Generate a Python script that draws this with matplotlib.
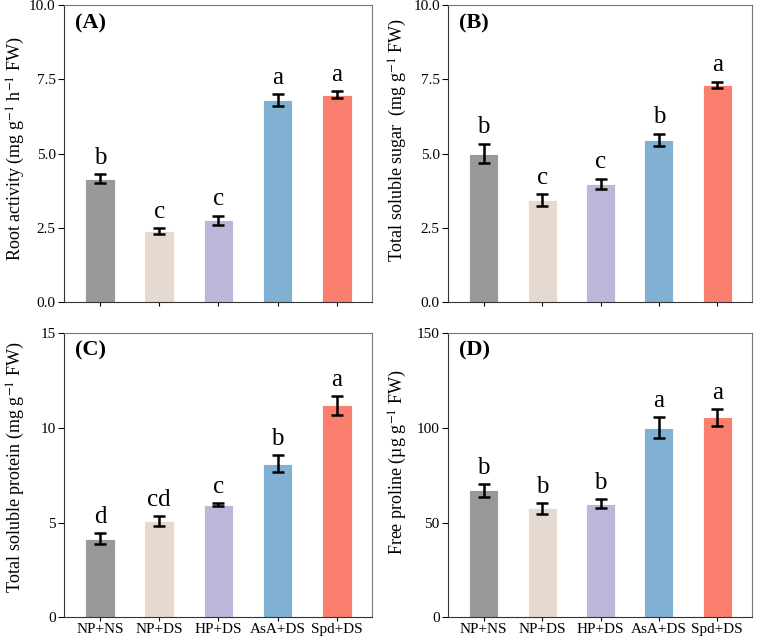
import numpy as np
import matplotlib
matplotlib.use("Agg")
import matplotlib.pyplot as plt

plt.rcParams['font.family'] = ['Liberation Serif', 'DejaVu Serif']
plt.rcParams['mathtext.fontset'] = 'stix'

groups = ["NP+NS", "NP+DS", "HP+DS", "AsA+DS", "Spd+DS"]
colors = ["#999999", "#e6d9d0", "#bcb6db", "#80b1d3", "#fa7f6f"]

root_mean = [4.15, 2.38, 2.75, 6.80, 6.98]
root_err = [0.15, 0.10, 0.16, 0.20, 0.12]
root_letters = ["b", "c", "c", "a", "a"]

sugar_mean = [5.00, 3.43, 3.97, 5.47, 7.32]
sugar_err = [0.33, 0.20, 0.18, 0.20, 0.10]
sugar_letters = ["b", "c", "c", "b", "a"]

protein_mean = [4.15, 5.08, 5.95, 8.10, 11.20]
protein_err = [0.30, 0.25, 0.08, 0.45, 0.50]
protein_letters = ["d", "cd", "c", "b", "a"]

proline_mean = [67.0, 57.5, 60.0, 100.0, 105.5]
proline_err = [3.5, 3.0, 2.5, 5.5, 4.5]
proline_letters = ["b", "b", "b", "a", "a"]

panels = [
    ("(A)", root_mean, root_err, root_letters, 10, [0, 2.5, 5.0, 7.5, 10.0], "%.1f",
     r"Root activity (mg g$^{-1}$ h$^{-1}$ FW)", [0.0845, 0.526, 0.4065, 0.466], False, (-0.12, 0.515)),
    ("(B)", sugar_mean, sugar_err, sugar_letters, 10, [0, 2.5, 5.0, 7.5, 10.0], "%.1f",
     r"Total soluble sugar  (mg g$^{-1}$ FW)", [0.592, 0.526, 0.401, 0.466], False, (-0.13, 0.545)),
    ("(C)", protein_mean, protein_err, protein_letters, 15, [0, 5, 10, 15], "%d",
     r"Total soluble protein (mg g$^{-1}$ FW)", [0.0845, 0.031, 0.4065, 0.446], True, (-0.12, 0.528)),
    ("(D)", proline_mean, proline_err, proline_letters, 150, [0, 50, 100, 150], "%d",
     "Free proline (µg g$^{-1}$ FW)", [0.592, 0.031, 0.401, 0.446], True, (-0.13, 0.545)),
]

fig = plt.figure(figsize=(7.57, 6.37), dpi=100)
x = np.arange(len(groups))

for label, mean, err, letters, ymax, yticks, fmt, ylabel, rect, show_x, label_pos in panels:
    ax = fig.add_axes(rect)
    ax.bar(x, mean, width=0.5, color=colors, edgecolor="white", linewidth=0.6)
    ax.errorbar(x, mean, yerr=err, fmt="none", ecolor="black", elinewidth=1.8,
                capsize=4, capthick=1.8)
    for xi, m, e, t in zip(x, mean, err, letters):
        ax.text(xi, m + e + ymax * 0.018, t, ha="center", va="bottom", fontsize=18)
    ax.set_xlim(-0.61, 4.59)
    ax.set_ylim(0, ymax)
    ax.set_yticks(yticks)
    ax.set_yticklabels([fmt % v for v in yticks], fontsize=11)
    ax.set_xticks(x)
    if show_x:
        ax.set_xticklabels(groups, fontsize=11)
    else:
        ax.set_xticklabels([])
    ax.tick_params(axis="x", length=3, pad=1)
    ax.tick_params(axis="y", length=4, pad=2)
    ax.set_ylabel(ylabel, fontsize=13)
    ax.yaxis.set_label_coords(*label_pos)
    for side in ["top", "right"]:
        ax.spines[side].set_color("#777777")
    for side in ["left", "bottom"]:
        ax.spines[side].set_color("#333333")
    ax.text(0.036, 0.973, label, transform=ax.transAxes, ha="left", va="top",
            fontsize=16, fontweight="bold")

fig.savefig("out.png", dpi=100)
